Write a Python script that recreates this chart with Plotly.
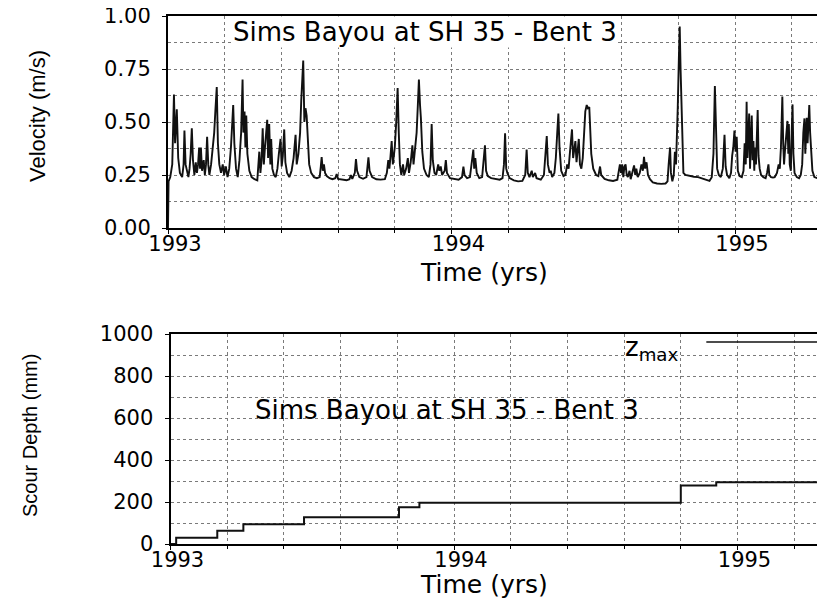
import plotly.graph_objects as go

# ---------------- data: velocity (m/s) vs time (yrs) ----------------
vel_t_a = [1993.000, 1993.002, 1993.008, 1993.015, 1993.021, 1993.025, 1993.031, 1993.036, 1993.042, 1993.050,
           1993.055, 1993.058, 1993.062, 1993.067, 1993.072, 1993.076, 1993.080, 1993.084, 1993.088, 1993.093,
           1993.098, 1993.102, 1993.106, 1993.110, 1993.113, 1993.116, 1993.120, 1993.126, 1993.130, 1993.134,
           1993.138, 1993.142, 1993.146, 1993.152, 1993.158, 1993.163, 1993.167, 1993.172, 1993.176, 1993.181,
           1993.187, 1993.193, 1993.198, 1993.204, 1993.210, 1993.216, 1993.222, 1993.227, 1993.230, 1993.234,
           1993.240, 1993.246, 1993.252, 1993.258, 1993.263, 1993.266, 1993.270, 1993.273, 1993.276, 1993.280,
           1993.287, 1993.295, 1993.305, 1993.315, 1993.319, 1993.322, 1993.326, 1993.330, 1993.334, 1993.338,
           1993.342, 1993.346, 1993.350, 1993.353, 1993.357, 1993.361, 1993.364, 1993.368, 1993.374, 1993.380,
           1993.386, 1993.391, 1993.397, 1993.401, 1993.405, 1993.410, 1993.414, 1993.420, 1993.428, 1993.436,
           1993.443, 1993.450, 1993.454, 1993.460, 1993.466, 1993.470, 1993.474, 1993.477, 1993.481, 1993.485,
           1993.489, 1993.493, 1993.498, 1993.505, 1993.515, 1993.525, 1993.535, 1993.539, 1993.542, 1993.546,
           1993.550, 1993.554, 1993.560]
vel_v_a = [0.00, 0.22, 0.24, 0.30, 0.63, 0.40, 0.56, 0.33, 0.26, 0.24,
           0.30, 0.46, 0.30, 0.26, 0.24, 0.28, 0.35, 0.47, 0.32, 0.25,
           0.31, 0.26, 0.30, 0.38, 0.28, 0.38, 0.27, 0.32, 0.25, 0.30,
           0.43, 0.30, 0.25, 0.30, 0.38, 0.45, 0.55, 0.665, 0.40, 0.30,
           0.26, 0.30, 0.25, 0.29, 0.24, 0.28, 0.38, 0.48, 0.58, 0.40,
           0.28, 0.24, 0.32, 0.45, 0.70, 0.45, 0.55, 0.38, 0.53, 0.35,
           0.27, 0.24, 0.23, 0.225, 0.30, 0.36, 0.26, 0.32, 0.47, 0.30,
           0.38, 0.46, 0.51, 0.33, 0.49, 0.30, 0.42, 0.28, 0.25, 0.24,
           0.28, 0.35, 0.42, 0.29, 0.34, 0.465, 0.31, 0.26, 0.24, 0.27,
           0.33, 0.44, 0.30, 0.35, 0.45, 0.60, 0.70, 0.79, 0.50, 0.565,
           0.53, 0.40, 0.30, 0.26, 0.24, 0.235, 0.24, 0.29, 0.335, 0.27,
           0.30, 0.26, 0.245]

vel_t_b = [1993.570, 1993.580, 1993.590, 1993.595, 1993.600, 1993.615, 1993.630, 1993.640, 1993.645, 1993.650,
           1993.659, 1993.663, 1993.667, 1993.675, 1993.688, 1993.700, 1993.704, 1993.707, 1993.711, 1993.720,
           1993.735, 1993.750, 1993.765, 1993.772, 1993.777, 1993.781, 1993.785, 1993.789, 1993.793, 1993.800,
           1993.805, 1993.810, 1993.814, 1993.818, 1993.823, 1993.829, 1993.833, 1993.840, 1993.846, 1993.850,
           1993.856, 1993.862, 1993.866, 1993.871, 1993.877, 1993.881, 1993.885, 1993.889, 1993.892, 1993.897,
           1993.903, 1993.912, 1993.920, 1993.926, 1993.930, 1993.934, 1993.940, 1993.946, 1993.950, 1993.953,
           1993.957, 1993.962, 1993.967, 1993.976, 1993.980, 1993.984, 1993.995, 1994.010, 1994.025, 1994.037,
           1994.042, 1994.046, 1994.055, 1994.065, 1994.070, 1994.074, 1994.077, 1994.080, 1994.084, 1994.089,
           1994.098, 1994.108, 1994.113, 1994.118, 1994.122, 1994.128]
vel_v_b = [0.235, 0.23, 0.235, 0.255, 0.232, 0.228, 0.225, 0.23, 0.25, 0.232,
           0.26, 0.325, 0.27, 0.24, 0.232, 0.24, 0.28, 0.333, 0.27, 0.24,
           0.23, 0.228, 0.23, 0.26, 0.32, 0.28, 0.34, 0.41, 0.30, 0.38,
           0.50, 0.66, 0.45, 0.30, 0.25, 0.30, 0.25, 0.28, 0.33, 0.26,
           0.31, 0.39, 0.30, 0.36, 0.45, 0.57, 0.70, 0.58, 0.52, 0.36,
           0.28, 0.25, 0.24, 0.30, 0.49, 0.32, 0.26, 0.25, 0.28, 0.30,
           0.27, 0.29, 0.25, 0.27, 0.32, 0.26, 0.235, 0.23, 0.228, 0.24,
           0.29, 0.25, 0.235, 0.24, 0.30, 0.33, 0.37, 0.28, 0.33, 0.26,
           0.235, 0.24, 0.30, 0.39, 0.27, 0.245]

vel_t_c = [1994.140, 1994.155, 1994.170, 1994.180, 1994.185, 1994.189, 1994.193, 1994.197, 1994.205, 1994.220,
           1994.235, 1994.250, 1994.260, 1994.265, 1994.269, 1994.275, 1994.280, 1994.283, 1994.287, 1994.292,
           1994.295, 1994.300, 1994.315, 1994.326, 1994.331, 1994.336, 1994.340, 1994.346, 1994.350, 1994.355,
           1994.363, 1994.368, 1994.373, 1994.377, 1994.381, 1994.387, 1994.395, 1994.402, 1994.408, 1994.413,
           1994.418, 1994.425, 1994.429, 1994.433, 1994.437, 1994.441, 1994.445, 1994.449, 1994.453, 1994.458,
           1994.463, 1994.468, 1994.472, 1994.477, 1994.481, 1994.486, 1994.489, 1994.493, 1994.500, 1994.510,
           1994.518, 1994.524, 1994.528, 1994.540, 1994.555, 1994.570, 1994.585, 1994.590, 1994.594, 1994.598,
           1994.602, 1994.606, 1994.610, 1994.614, 1994.618, 1994.622, 1994.628, 1994.632, 1994.638, 1994.644,
           1994.648, 1994.652, 1994.657, 1994.664, 1994.670, 1994.675, 1994.679, 1994.683, 1994.688, 1994.693,
           1994.700]
vel_v_c = [0.235, 0.23, 0.228, 0.235, 0.30, 0.447, 0.28, 0.26, 0.235, 0.225,
           0.22, 0.222, 0.25, 0.37, 0.26, 0.24, 0.26, 0.27, 0.24, 0.255,
           0.26, 0.235, 0.228, 0.25, 0.33, 0.434, 0.30, 0.26, 0.27, 0.24,
           0.26, 0.33, 0.45, 0.54, 0.38, 0.27, 0.245, 0.25, 0.30, 0.28,
           0.36, 0.465, 0.33, 0.38, 0.41, 0.31, 0.36, 0.42, 0.30, 0.28,
           0.33, 0.45, 0.55, 0.58, 0.565, 0.57, 0.45, 0.35, 0.28, 0.25,
           0.245, 0.29, 0.25, 0.232, 0.225, 0.222, 0.228, 0.27, 0.30, 0.26,
           0.30, 0.24, 0.29, 0.30, 0.25, 0.24, 0.27, 0.23, 0.26, 0.295,
           0.25, 0.28, 0.24, 0.26, 0.30, 0.27, 0.336, 0.28, 0.31, 0.25,
           0.23]

vel_t_d = [1994.710, 1994.725, 1994.740, 1994.755, 1994.762, 1994.766, 1994.771, 1994.774, 1994.779, 1994.784,
           1994.788, 1994.792, 1994.796, 1994.798, 1994.802, 1994.805, 1994.808, 1994.812, 1994.815, 1994.818,
           1994.825, 1994.840, 1994.855, 1994.870, 1994.880, 1994.890, 1994.900, 1994.910, 1994.918, 1994.924,
           1994.929, 1994.933, 1994.937, 1994.943, 1994.950, 1994.957, 1994.963, 1994.967, 1994.972, 1994.980,
           1994.986, 1994.990, 1994.994, 1994.998, 1995.002, 1995.006, 1995.010, 1995.016, 1995.024, 1995.030,
           1995.034, 1995.038, 1995.041, 1995.044, 1995.047, 1995.050, 1995.053, 1995.056, 1995.059, 1995.062,
           1995.065, 1995.068, 1995.071, 1995.074, 1995.077, 1995.080, 1995.083, 1995.087, 1995.092, 1995.100,
           1995.108, 1995.113, 1995.118, 1995.121, 1995.127, 1995.134, 1995.140, 1995.148, 1995.154, 1995.158,
           1995.162, 1995.165, 1995.167, 1995.170, 1995.173, 1995.176, 1995.180, 1995.185, 1995.188, 1995.190,
           1995.193, 1995.197, 1995.200, 1995.203, 1995.206, 1995.210, 1995.218, 1995.226, 1995.232, 1995.237,
           1995.241, 1995.245, 1995.248, 1995.251, 1995.253, 1995.256, 1995.259, 1995.262, 1995.265, 1995.268,
           1995.273, 1995.280, 1995.290, 1995.298, 1995.302, 1995.306, 1995.309, 1995.315, 1995.325]
vel_v_d = [0.215, 0.21, 0.208, 0.21, 0.22, 0.30, 0.38, 0.26, 0.22, 0.25,
           0.36, 0.30, 0.45, 0.565, 0.80, 0.95, 0.75, 0.565, 0.40, 0.26,
           0.25, 0.245, 0.242, 0.24, 0.235, 0.232, 0.226, 0.222, 0.24, 0.35,
           0.67, 0.40, 0.28, 0.25, 0.24, 0.28, 0.44, 0.29, 0.25, 0.235,
           0.26, 0.34, 0.38, 0.46, 0.36, 0.43, 0.27, 0.245, 0.24, 0.27,
           0.40, 0.30, 0.596, 0.33, 0.45, 0.54, 0.28, 0.44, 0.53, 0.32,
           0.41, 0.27, 0.38, 0.30, 0.45, 0.556, 0.34, 0.28, 0.25, 0.24,
           0.235, 0.26, 0.30, 0.25, 0.24, 0.238, 0.24, 0.26, 0.30, 0.28,
           0.38, 0.50, 0.62, 0.40, 0.30, 0.36, 0.42, 0.505, 0.35, 0.49,
           0.30, 0.27, 0.45, 0.583, 0.35, 0.26, 0.24, 0.235, 0.25, 0.30,
           0.45, 0.517, 0.35, 0.46, 0.52, 0.40, 0.50, 0.58, 0.45, 0.36,
           0.27, 0.24, 0.235, 0.24, 0.28, 0.345, 0.27, 0.24, 0.235]

# ---------------- data: scour depth (mm) vs time (yrs) ----------------
scour_time = [1993.000, 1993.020, 1993.165, 1993.257, 1993.471, 1993.806, 1993.878, 1994.800, 1994.925, 1995.400]
scour_depth = [0, 30, 63, 94, 127, 175, 197, 278, 294, 294]
zmax_time = [1994.890, 1995.400]
zmax_depth = [962, 962]

x_start = 1993.0
x_tick_labels = ["1993", "1994", "1995"]
site_label = "Sims Bayou at SH 35 - Bent 3"

vel_time = vel_t_a + vel_t_b + vel_t_c + vel_t_d
vel_value = vel_v_a + vel_v_b + vel_v_c + vel_v_d

# the page body has an 8 px margin: figure px = screen px - 8
W, H = 825, 598
OFF = 8
def fx(x):  # screen column -> paper fraction
    return (x - OFF) / W
def fy(y):  # screen row -> paper fraction
    return (H - (y - OFF)) / H

PX_PER_YR = 283.5
x_end_top = x_start + (W + OFF - 168) / PX_PER_YR
x_end_bot = x_start + (W + OFF - 170.5) / PX_PER_YR

tick_font = dict(family="DejaVu Sans", size=21, color="black")
title_font = dict(family="DejaVu Sans", size=25, color="black")
site_font = dict(family="DejaVu Sans", size=26, color="black")
ytitle_family = "Liberation Sans Narrow, Liberation Sans, Arial, sans-serif"
grid = dict(showgrid=True, gridcolor="#7a7a7a", griddash="dot", gridwidth=1,
            showline=True, linecolor="black", linewidth=2, zeroline=False, automargin=False,
            ticks="outside", ticklen=4, tickcolor="black", tickfont=tick_font,
            ticklabeloverflow="allow")

fig = go.Figure()
fig.add_trace(go.Scatter(x=vel_time, y=vel_value, mode="lines",
                         line=dict(color="#111111", width=1.9), xaxis="x", yaxis="y",
                         showlegend=False))
fig.add_trace(go.Scatter(x=scour_time, y=scour_depth, mode="lines", line_shape="hv",
                         line=dict(color="#111111", width=2), xaxis="x2", yaxis="y2",
                         showlegend=False))
fig.add_trace(go.Scatter(x=zmax_time, y=zmax_depth, mode="lines",
                         line=dict(color="#111111", width=1.5), xaxis="x2", yaxis="y2",
                         showlegend=False))

xcommon = dict(tickmode="array", tickvals=[1993, 1994, 1995], ticktext=x_tick_labels,
               minor=dict(tickmode="linear", tick0=1993, dtick=0.2, showgrid=True, gridcolor="#7a7a7a",
                          griddash="dot", gridwidth=1, ticks="outside", ticklen=3, tickcolor="black"),
               mirror=True, ticklabelshift=7, ticklabelstandoff=-8, **grid)

center = dict(xanchor="center", yanchor="middle", showarrow=False)

fig.update_layout(
    width=W, height=H,
    margin=dict(l=0, r=0, t=0, b=0, pad=0, autoexpand=False),
    paper_bgcolor="white", plot_bgcolor="white",
    xaxis=dict(domain=[fx(168), 1], anchor="y", range=[x_start, x_end_top], **xcommon),
    yaxis=dict(domain=[fy(228), fy(16)], anchor="x", range=[0, 1], tickmode="linear", tick0=0, dtick=0.25,
               tickformat=".2f", ticklabelstandoff=7,
               minor=dict(tickmode="linear", tick0=0, dtick=0.125, showgrid=True, gridcolor="#7a7a7a",
                          griddash="dot", gridwidth=1),
               mirror=False, **grid),
    xaxis2=dict(domain=[fx(170.5), 1], anchor="y2", range=[x_start, x_end_bot], **xcommon),
    yaxis2=dict(domain=[fy(544), fy(334)], anchor="x2", range=[0, 1000], tickmode="linear", tick0=0, dtick=200,
                ticklabelstandoff=7,
                minor=dict(tickmode="linear", tick0=0, dtick=100, showgrid=True, gridcolor="#7a7a7a",
                           griddash="dot", gridwidth=1),
                mirror=False, **grid),
    annotations=[
        dict(text=site_label, x=1993.905, y=0.925, xref="x", yref="y",
             font=site_font, bgcolor="white", borderpad=0, **center),
        dict(text=site_label, x=1993.975, y=638, xref="x2", yref="y2", font=site_font, **center),
        dict(text="z<sub>max</sub>", x=1994.70, y=930, xref="x2", yref="y2",
             font=dict(family="DejaVu Sans", size=26, color="black"), **center),
        dict(text="Time (yrs)", x=fx(484), y=fy(272), xref="paper", yref="paper",
             font=title_font, **center),
        dict(text="Time (yrs)", x=fx(484), y=fy(584), xref="paper", yref="paper",
             font=title_font, **center),
        dict(text="Velocity (m/s)", x=fx(37), y=fy(116), xref="paper", yref="paper",
             textangle=-90, font=dict(family=ytitle_family, size=22, color="black"), **center),
        dict(text="Scour Depth (mm)", x=fx(30), y=fy(436), xref="paper", yref="paper",
             textangle=-90, font=dict(family=ytitle_family, size=20, color="black"), **center),
    ],
)

fig.write_html("out.html")
